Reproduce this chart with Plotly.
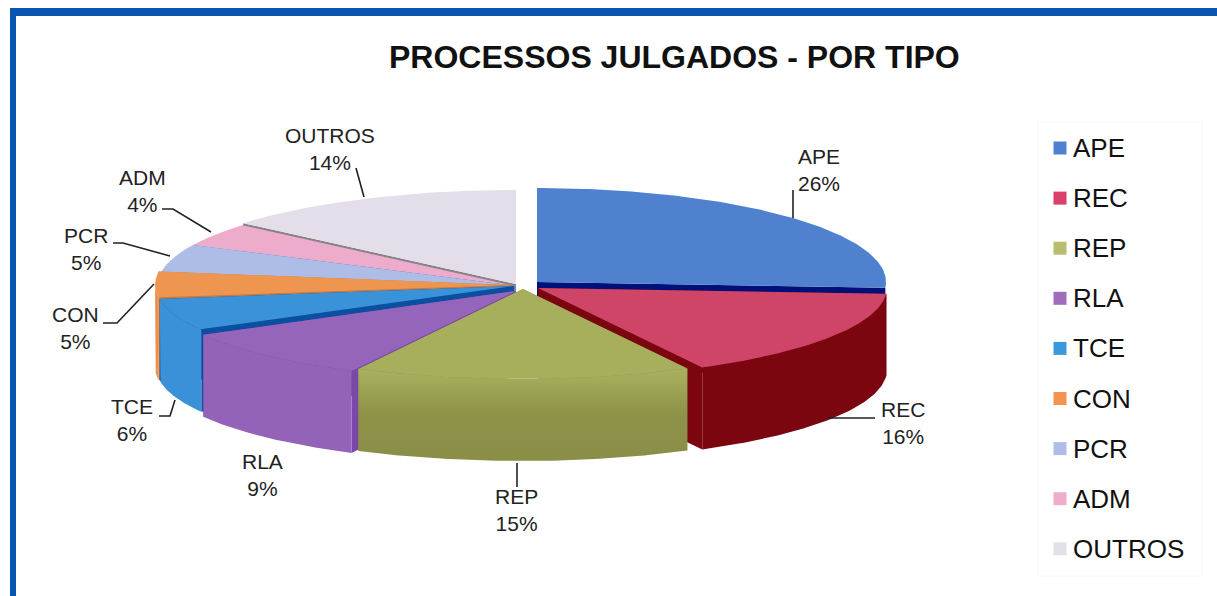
import numpy as np
import plotly.graph_objects as go

categories = ["APE", "REC", "REP", "RLA", "TCE", "CON", "PCR", "ADM", "OUTROS"]
values = [26.0, 16.2, 15.4, 9.3, 5.8, 4.6, 4.9, 4.0, 13.8]
title_text = "PROCESSOS JULGADOS - POR TIPO"

top_colors = ["#4f81cf", "#cf4568", "#a7ae5c", "#9565bb", "#3a93d8", "#ee9650", "#aebde8", "#eeaccd", "#e4deea"]
outer_colors = ["#00107a", "#7c0610", "#8b9049", "#9363b9", "#3a91d7", "#e8904c", "#8090c0", "#b080a0", "#909090"]
cut_colors = ["#00107a", "#7c0610", "#8b9049", "#7a48a8", "#0a4fa0", "#c87a40", "#7080b8", "#9070a0", "#858585"]
swatch_colors = ["#4f81cf", "#d9406a", "#b9bd70", "#a06cbd", "#3a98dc", "#f2934e", "#aebde8", "#efaccb", "#e4e0ea"]

# Slice centres of the exploded 3-D pie, in page pixels
centers = {"APE": (537, 282), "REC": (538, 288), "REP": (523, 289), "RLA": (516, 291), "TCE": (514, 286),
           "CON": (513, 285), "PCR": (515, 286), "ADM": (515, 286), "OUTROS": (516, 284)}
RX, RY_BACK, RY_FRONT, DEPTH = 358, 94, 90, 82
RX_RIGHT = 349
draw_order = ["OUTROS", "ADM", "PCR", "CON", "TCE", "RLA", "APE", "REC", "REP"]

label_pos = {"APE": (819, 170), "REC": (903, 423), "REP": (516, 510), "RLA": (262, 475), "TCE": (132, 420),
             "CON": (75, 328), "PCR": (86, 249), "ADM": (142, 191), "OUTROS": (330, 149)}
leaders = [
    [(356, 168), (364, 197)],
    [(162, 209), (173, 209), (211, 232)],
    [(113, 243), (123, 243), (170, 256)],
    [(103, 323), (117, 323), (154, 284)],
    [(159, 416), (170, 416), (175, 400)],
    [(517, 463), (517, 487)],
    [(793, 190), (793, 218)],
    [(828, 418), (875, 418)],
]


def rim(name, deg):
    cx, cy = centers[name]
    t = np.radians(deg)
    s, c = np.sin(t), np.cos(t)
    rx = np.where(s > 0, RX_RIGHT, RX)
    ry = np.where(c > 0, RY_BACK, RY_FRONT)
    return cx + rx * s, cy - ry * c


def poly(xs, ys, color, **kw):
    return go.Scatter(x=list(xs), y=list(ys), mode="lines", fill="toself", fillcolor=color,
                      line=dict(width=0, color=color), hoverinfo="skip", showlegend=False, **kw)


edges = np.concatenate([[0], np.cumsum(values)]) / sum(values) * 360
angles = {n: (edges[i], edges[i + 1]) for i, n in enumerate(categories)}
top = dict(zip(categories, top_colors))
outer = dict(zip(categories, outer_colors))
cut = dict(zip(categories, cut_colors))

fig = go.Figure()
for name in draw_order:
    a, b = angles[name]
    cx, cy = centers[name]
    # cut faces
    for deg in (a, b):
        x, y = rim(name, deg)
        fig.add_trace(poly([cx, x, x, cx], [cy, y, y + DEPTH, cy + DEPTH], cut[name]))
    # outer wall
    lo, hi = max(a, 90), min(b, 270)
    if hi > lo:
        th = np.linspace(lo, hi, 80)
        x, y = rim(name, th)
        xs = np.concatenate([x, x[::-1]])
        ys = np.concatenate([y, (y + DEPTH)[::-1]])
        if name == "REP":
            fig.add_trace(poly(xs, ys, outer[name],
                               fillgradient=dict(type="vertical",
                                                 colorscale=[[0, "#8a8e47"], [0.5, "#8d9249"], [1, "#aab25f"]])))
        else:
            fig.add_trace(poly(xs, ys, outer[name]))
    # top face
    th = np.linspace(a, b, 120)
    x, y = rim(name, th)
    fig.add_trace(poly(np.concatenate([[cx], x, [cx]]), np.concatenate([[cy], y, [cy]]), top[name]))

for seg in leaders:
    fig.add_trace(go.Scatter(x=[p[0] for p in seg], y=[p[1] for p in seg], mode="lines",
                             line=dict(color="#222222", width=1.6), hoverinfo="skip", showlegend=False))

# Legend column
legend_y = [148 + i * 50.1 for i in range(len(categories))]
fig.add_trace(go.Scatter(x=[1060] * len(categories), y=legend_y, mode="markers", hoverinfo="skip", showlegend=False,
                         marker=dict(symbol="square", size=13, color=swatch_colors)))
annotations = [dict(x=1071, y=yy, text=n, showarrow=False, xanchor="left", yanchor="middle",
                    font=dict(size=26, color="#111111")) for n, yy in zip(categories, legend_y)]
for n, v in zip(categories, values):
    px, py = label_pos[n]
    annotations.append(dict(x=px, y=py, text=f"{n}<br>{round(v)}%", showarrow=False, align="center",
                            font=dict(size=21, color="#222222")))
annotations.append(dict(x=674, y=57, text=f"<b>{title_text}</b>", showarrow=False,
                        font=dict(size=32, color="#111111")))

shapes = [
    dict(type="rect", x0=10, x1=16, y0=8, y1=596, fillcolor="#0a55b0", line_width=0, layer="below"),
    dict(type="rect", x0=10, x1=1217, y0=8, y1=16, fillcolor="#0a55b0", line_width=0, layer="below"),
    dict(type="rect", x0=1038, x1=1202, y0=122, y1=576, fillcolor="rgba(0,0,0,0)",
         line=dict(color="#f6f6f6", width=1), layer="below"),
]

fig.update_layout(
    width=1217, height=596, margin=dict(l=0, r=0, t=0, b=0), autosize=False,
    paper_bgcolor="white", plot_bgcolor="white", showlegend=False,
    font=dict(family="Liberation Sans, Arial, sans-serif"),
    xaxis=dict(range=[0, 1217], visible=False, fixedrange=True),
    yaxis=dict(range=[596, 0], visible=False, fixedrange=True),
    annotations=annotations, shapes=shapes,
)
fig.write_html("out.html", config={"displayModeBar": False},
               post_script="document.body.style.margin='0';document.body.style.overflow='hidden';")
